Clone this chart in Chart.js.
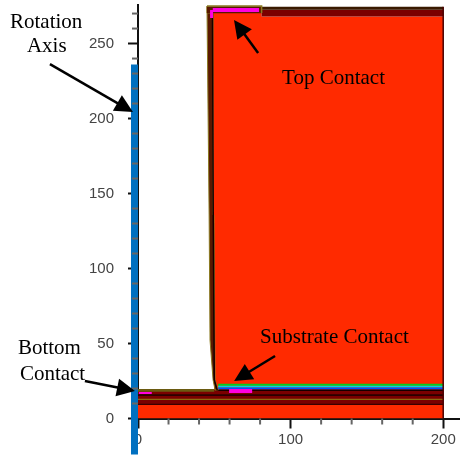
<!DOCTYPE html>
<html>
<head>
<meta charset="utf-8">
<style>
  html, body { margin: 0; padding: 0; background: #fff; }
  canvas { display: block; }
</style>
<script src="https://cdn.jsdelivr.net/npm/chart.js@4/dist/chart.umd.min.js"></script>
</head>
<body>
<canvas id="grafico" width="460" height="458"></canvas>
<script>
// ========================= DADOS =========================
const yTicks = [0, 50, 100, 150, 200, 250];
const xTicks = [0, 100, 200];
const xMinorTicks = [20, 40, 60, 80, 120, 140, 160, 180];
const yMinorTicks = [10, 20, 30, 40, 60, 70, 80, 90, 110, 120, 130, 140, 160, 170, 180, 190, 210, 220, 230, 240, 260, 270];

// regions of the device cross section, [x, y] in axis units
const redBody = [[0, 0], [200, 0], [200, 268], [81, 268], [81, 271], [49, 271], [50, 19], [0, 19]];
const darkBand = [[0, 9], [200, 9], [200, 18.7], [52, 18.7], [50, 19.7], [0, 19.7]];
const blackBand = [[0, 15], [200, 15], [200, 16.2], [0, 16.2]];
const oliveBand = [[0, 12.4], [200, 12.4], [200, 13.1], [0, 13.1]];
const edgeBand = [[0, 9], [200, 9], [200, 9.8], [0, 9.8]];
const blackLayer = [[52.5, 18.3], [200, 18.3], [200, 19.3], [52.5, 19.3]];
const blueLayer = [[52.5, 19.3], [200, 19.3], [200, 20.6], [52.5, 20.6]];
const cyanLayer = [[52.5, 20.6], [200, 20.6], [200, 21.8], [52.5, 21.8]];
const greenLayer = [[52.5, 21.8], [200, 21.8], [200, 23.2], [52.5, 23.2]];
const ledgeTop = [[0, 17.8], [50, 17.8], [50, 19.7], [0, 19.7]];
const wall = [[45.2, 275], [46.6, 135.7], [47.2, 52.3], [49.2, 25.7], [50.5, 19], [52.5, 19], [50.5, 25.7], [49.8, 135.7], [49.2, 270.3], [45.2, 270.3]];
const topFrame = [[45.2, 272.6], [81, 272.6]];
const topFrameEdge = [[45.2, 275], [81, 275], [81, 270.3]];
const wallInner = [[48.8, 270], [49.3, 135.7], [50, 25.7], [52, 18.6]];
const topBand = [[81, 268], [200, 268], [200, 272.5], [81, 272.5]];
const topLine = [[81, 272.5], [200, 272.5], [200, 274.5], [81, 274.5]];
const topContact = [[49, 272.3], [79.3, 272.3]];
const topContactCorner = [[48.2, 272.3], [48.2, 267]];
const substrateContact = [[59.7, 17], [74.8, 17], [74.8, 19.7], [59.7, 19.7]];
const bottomContact = [[0.6, 16.3], [9, 16.3], [9, 17.7], [0.6, 17.7]];
const rightEdge = [[200, 0], [200, 274.5]];
const rotationAxis = [[-2.3, -24], [-2.3, 236]];

// annotations: text [label, x, y] and arrows [tailX, tailY, tipX, tipY]
const labels = [
    ['Rotation', -83.9, 260.3],
    ['Axis', -72.8, 244.3],
    ['Top Contact', 94.4, 223],
    ['Substrate Contact', 80, 50.3],
    ['Bottom', -78.7, 43],
    ['Contact', -77.4, 25.7]
];
const arrows = [
    [-57.7, 236.3, -3.3, 204.3],
    [78.7, 243.7, 62.9, 265.7],
    [89.8, 41.7, 63, 25],
    [-34.8, 25, -2, 18.3]
];

// ========================= HELPERS =========================
function regiao(points, fillColor, borderColor, borderWidth) {
    return {
        type: 'scatter',
        data: points.concat([points[0]]).map(p => ({ x: p[0], y: p[1] })),
        showLine: true,
        fill: 'shape',
        backgroundColor: fillColor,
        borderColor: borderColor || fillColor,
        borderWidth: borderWidth === undefined ? 0 : borderWidth,
        pointRadius: 0,
        tension: 0
    };
}

function linha(points, color, width, clip) {
    const ds = {
        type: 'scatter',
        data: points.map(p => ({ x: p[0], y: p[1] })),
        showLine: true,
        borderColor: color,
        borderWidth: width,
        pointRadius: 0,
        tension: 0
    };
    if (clip === false) ds.clip = false;
    return ds;
}

const anotacoes = {
    id: 'anotacoes',
    afterDraw(chart) {
        const c = chart.ctx;
        const sx = chart.scales.x;
        const sy = chart.scales.y;

        // minor ticks
        c.save();
        c.strokeStyle = '#666';
        c.lineWidth = 2;
        xMinorTicks.forEach(v => {
            const px = sx.getPixelForValue(v);
            c.beginPath();
            c.moveTo(px, sy.bottom);
            c.lineTo(px, sy.bottom + 6);
            c.stroke();
        });
        yMinorTicks.forEach(v => {
            const py = sy.getPixelForValue(v);
            c.beginPath();
            c.moveTo(sx.left, py);
            c.lineTo(sx.left - 6, py);
            c.stroke();
        });

        // arrows
        c.strokeStyle = '#000';
        c.fillStyle = '#000';
        c.lineWidth = 2.5;
        arrows.forEach(a => {
            const x0 = sx.getPixelForValue(a[0]);
            const y0 = sy.getPixelForValue(a[1]);
            const x1 = sx.getPixelForValue(a[2]);
            const y1 = sy.getPixelForValue(a[3]);
            const ang = Math.atan2(y1 - y0, x1 - x0);
            c.beginPath();
            c.moveTo(x0, y0);
            c.lineTo(x1 - 10 * Math.cos(ang), y1 - 10 * Math.sin(ang));
            c.stroke();
            c.beginPath();
            c.moveTo(x1, y1);
            c.lineTo(x1 - 18 * Math.cos(ang) + 9 * Math.sin(ang), y1 - 18 * Math.sin(ang) - 9 * Math.cos(ang));
            c.lineTo(x1 - 18 * Math.cos(ang) - 9 * Math.sin(ang), y1 - 18 * Math.sin(ang) + 9 * Math.cos(ang));
            c.closePath();
            c.fill();
        });

        // text labels
        c.font = '21px "Liberation Serif"';
        c.textBaseline = 'alphabetic';
        labels.forEach(l => {
            c.fillText(l[0], sx.getPixelForValue(l[1]), sy.getPixelForValue(l[2]));
        });
        c.restore();
    }
};

// ========================= GRÁFICO =========================
// Chart.js paints the first dataset last, so the list goes from top layer to bottom layer
const camadas = [
    linha(rotationAxis, '#0070c0', 7, false),
    linha(topContact, '#ff00e0', 4),
    linha(topContactCorner, '#ff00e0', 3),
    regiao(substrateContact, '#ff00e0'),
    regiao(bottomContact, '#ff00e0'),
    linha(wallInner, '#150000', 1.5),
    linha(topFrameEdge, '#8a7a20', 1.5),
    linha(topFrame, '#5a1800', 7),
    regiao(wall, '#5a1800', '#8a7a20', 1),
    linha(rightEdge, '#4a0000', 1.5),
    regiao(topLine, '#3a1a00'),
    regiao(topBand, '#7a0000'),
    regiao(ledgeTop, '#6a5a10'),
    regiao(blackLayer, '#150000'),
    regiao(blueLayer, '#0050ff'),
    regiao(cyanLayer, '#00d8e0'),
    regiao(greenLayer, '#00d020'),
    regiao(oliveBand, '#8a6a10'),
    regiao(blackBand, '#2a0000'),
    regiao(edgeBand, '#3a0000'),
    regiao(darkBand, '#7a0000'),
    regiao(redBody, '#ff2a00')
];

new Chart(document.getElementById('grafico'), {
    type: 'scatter',
    data: { datasets: camadas },
    options: {
        responsive: false,
        animation: false,
        layout: { padding: { top: 5, right: 0 } },
        plugins: { legend: { display: false }, tooltip: { enabled: false } },
        scales: {
            x: {
                type: 'linear',
                min: 0,
                max: 211,
                afterFit(scale) {
                    scale.height = 39.5;
                    scale.paddingLeft = 0;
                    scale.paddingRight = 0;
                },
                afterBuildTicks(scale) { scale.ticks = xTicks.map(v => ({ value: v })); },
                grid: { drawOnChartArea: false, tickLength: 10, tickColor: '#111', tickWidth: 2 },
                border: { color: '#111', width: 2 },
                ticks: { color: '#444', font: { family: 'Liberation Sans', size: 15 }, padding: 2, maxRotation: 0, autoSkip: false }
            },
            y: {
                type: 'linear',
                min: 0,
                max: 275.7,
                afterFit(scale) {
                    scale.width = 138;
                    scale.paddingTop = 0;
                    scale.paddingBottom = 0;
                },
                afterBuildTicks(scale) { scale.ticks = yTicks.map(v => ({ value: v })); },
                grid: { drawOnChartArea: false, tickLength: 10, tickColor: '#111', tickWidth: 2 },
                border: { color: '#111', width: 2 },
                ticks: { color: '#444', font: { family: 'Liberation Sans', size: 15 }, padding: 14, autoSkip: false }
            }
        }
    },
    plugins: [anotacoes]
});
</script>
</body>
</html>
